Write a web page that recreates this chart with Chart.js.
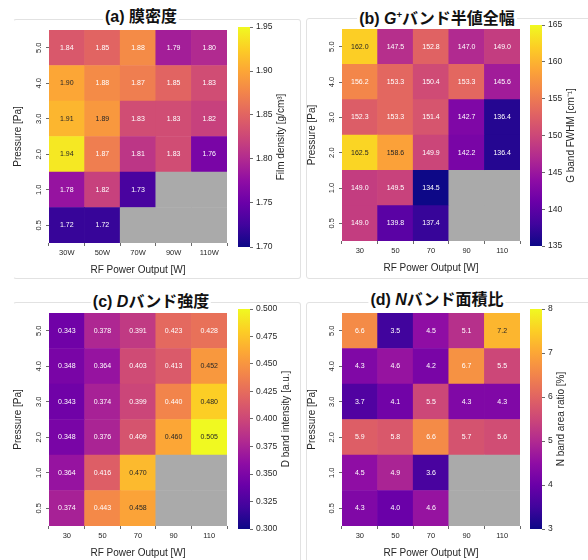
<!DOCTYPE html>
<html>
<head>
<meta charset="utf-8">
<script src="https://cdn.jsdelivr.net/npm/chart.js@4.4.1/dist/chart.umd.min.js"></script>
<style>
  body { margin: 0; background: #fff; }
  #page { position: relative; width: 588px; height: 560px; overflow: hidden; background: #fff; }
  canvas { position: absolute; }
  .box { position: absolute; border: 1px solid #e2e2e2; border-radius: 3px; }
  .title {
    position: absolute; transform: translate(-50%, -50%); white-space: nowrap;
    font-family: "Liberation Sans", "Noto Sans CJK JP", sans-serif; font-weight: bold; font-size: 16px;
    color: #111; background: #fff; padding: 0 2px; line-height: 20px;
  }
  .title sup { font-size: 60%; vertical-align: 6px; }
</style>
</head>
<body>
<div id="page">
  <div class="box" style="left:13px;top:19px;width:286px;height:258px;border-left-color:transparent"></div>
  <div class="box" style="left:306px;top:18px;width:290px;height:259px"></div>
  <div class="box" style="left:13px;top:302px;width:286px;height:270px;border-left-color:transparent"></div>
  <div class="box" style="left:306px;top:302px;width:290px;height:270px"></div>

  <canvas id="heatA" width="240" height="280" style="left:0px;top:0px"></canvas>
  <canvas id="cbarA" width="70" height="280" style="left:232px;top:0px"></canvas>
  <canvas id="heatB" width="240" height="280" style="left:294px;top:0px"></canvas>
  <canvas id="cbarB" width="70" height="280" style="left:526px;top:0px"></canvas>
  <canvas id="heatC" width="240" height="280" style="left:0px;top:283px"></canvas>
  <canvas id="cbarC" width="70" height="280" style="left:232px;top:283px"></canvas>
  <canvas id="heatD" width="240" height="280" style="left:294px;top:283px"></canvas>
  <canvas id="cbarD" width="70" height="280" style="left:526px;top:283px"></canvas>

  <div class="title" style="left:141px;top:17px">(a) 膜密度</div>
  <div class="title" style="left:437px;top:17px">(b) <i>G</i><sup>+</sup>バンド半値全幅</div>
  <div class="title" style="left:151px;top:302px">(c) <i>D</i>バンド強度</div>
  <div class="title" style="left:437px;top:300px">(d) <i>N</i>バンド面積比</div>
</div>
<script>
// rows are pressures, top to bottom; columns are RF power
const pressureLabels = ['5.0', '4.0', '3.0', '2.0', '1.0', '0.5'];
const powerLabelsW = ['30W', '50W', '70W', '90W', '110W'];
const powerLabels = ['30', '50', '70', '90', '110'];

// (a) film density [g/cm3]
const densityValues = [
    [1.84, 1.85, 1.88, 1.79, 1.80],
    [1.90, 1.88, 1.87, 1.85, 1.83],
    [1.91, 1.89, 1.83, 1.83, 1.82],
    [1.94, 1.87, 1.81, 1.83, 1.76],
    [1.78, 1.82, 1.73, null, null],
    [1.72, 1.72, null, null, null]
];
const densityTicks = [1.70, 1.75, 1.80, 1.85, 1.90, 1.95];

// (b) G+ band FWHM [cm-1]
const fwhmValues = [
    [162.0, 147.5, 152.8, 147.0, 149.0],
    [156.2, 153.3, 150.4, 153.3, 145.6],
    [152.3, 153.3, 151.4, 142.7, 136.4],
    [162.5, 158.6, 149.9, 142.2, 136.4],
    [149.0, 149.5, 134.5, null, null],
    [149.0, 139.8, 137.4, null, null]
];
const fwhmTicks = [135, 140, 145, 150, 155, 160, 165];

// (c) D band intensity [a.u.]
const dbandValues = [
    [0.343, 0.378, 0.391, 0.423, 0.428],
    [0.348, 0.364, 0.403, 0.413, 0.452],
    [0.343, 0.374, 0.399, 0.440, 0.480],
    [0.348, 0.376, 0.409, 0.460, 0.505],
    [0.364, 0.416, 0.470, null, null],
    [0.374, 0.443, 0.458, null, null]
];
const dbandTicks = [0.300, 0.325, 0.350, 0.375, 0.400, 0.425, 0.450, 0.475, 0.500];

// (d) N band area ratio [%]
const nbandValues = [
    [6.6, 3.5, 4.5, 5.1, 7.2],
    [4.3, 4.6, 4.2, 6.7, 5.5],
    [3.7, 4.1, 5.5, 4.3, 4.3],
    [5.9, 5.8, 6.6, 5.7, 5.6],
    [4.5, 4.9, 3.6, null, null],
    [4.3, 4.0, 4.6, null, null]
];
const nbandTicks = [3, 4, 5, 6, 7, 8];

const TEXT = '#262626';
const MISSING = '#aaaaaa';
const FONT = '"Liberation Sans", Arial, sans-serif';

// plasma colormap stops
const PLASMA = ['#0d0887', '#41049d', '#6a00a8', '#8f0da4', '#b12a90', '#cc4778',
                '#e16462', '#f2844b', '#fca636', '#fcce25', '#f0f921'];

function hexToRgb(h) {
    return [1, 3, 5].map(i => parseInt(h.substr(i, 2), 16));
}

function plasma(t) {
    t = Math.min(1, Math.max(0, t));
    const s = t * (PLASMA.length - 1);
    const i = Math.min(PLASMA.length - 2, Math.floor(s));
    const f = s - i;
    const a = hexToRgb(PLASMA[i]), b = hexToRgb(PLASMA[i + 1]);
    return a.map((c, k) => Math.round(c + (b[k] - c) * f));
}

// same rule as seaborn annotations: dark text on light cells
function textColorFor(rgb) {
    const lin = rgb.map(c => {
        c /= 255;
        return c <= 0.03928 ? c / 12.92 : Math.pow((c + 0.055) / 1.055, 2.4);
    });
    const lum = 0.2126 * lin[0] + 0.7152 * lin[1] + 0.0722 * lin[2];
    return lum > 0.408 ? TEXT : '#ffffff';
}

// draws the value inside each cell
const cellText = {
    id: 'cellText',
    afterDatasetsDraw(chart, args, opts) {
        const ctx = chart.ctx;
        ctx.save();
        ctx.font = '7px ' + FONT;
        ctx.textAlign = 'center';
        ctx.textBaseline = 'middle';
        chart.data.datasets.forEach((ds, di) => {
            chart.getDatasetMeta(di).data.forEach((bar, j) => {
                const v = ds.values[j];
                if (v == null) return;
                ctx.fillStyle = ds.textColors[j];
                ctx.fillText(v.toFixed(opts.decimals), bar.x, (bar.y + bar.base) / 2);
            });
        });
        ctx.restore();
    }
};

// vertical pressure labels, like matplotlib's rotated y ticks
const rotatedYLabels = {
    id: 'rotatedYLabels',
    afterDraw(chart) {
        const scale = chart.scales.y;
        const ctx = chart.ctx;
        ctx.save();
        ctx.font = '7.5px ' + FONT;
        ctx.fillStyle = TEXT;
        ctx.textAlign = 'center';
        ctx.textBaseline = 'middle';
        scale.ticks.forEach(t => {
            ctx.save();
            ctx.translate(chart.chartArea.left - 10, scale.getPixelForValue(t.value));
            ctx.rotate(-Math.PI / 2);
            ctx.fillText(t.label, 0, 0);
            ctx.restore();
        });
        ctx.restore();
    }
};

// colorbar label reading bottom to top
const cbarLabel = {
    id: 'cbarLabel',
    afterDraw(chart, args, opts) {
        const ctx = chart.ctx;
        const scale = chart.scales.y;
        ctx.save();
        ctx.font = '8.5px ' + FONT;
        const maxW = Math.max(...scale.ticks.map(t => ctx.measureText(t.label).width));
        const x = chart.chartArea.right + 6 + maxW + 9;
        const y = (chart.chartArea.top + chart.chartArea.bottom) / 2;
        ctx.font = '10px ' + FONT;
        ctx.fillStyle = TEXT;
        ctx.textAlign = 'center';
        ctx.textBaseline = 'middle';
        ctx.translate(x, y);
        ctx.rotate(-Math.PI / 2);
        ctx.fillText(opts.text, 0, 0);
        ctx.restore();
    }
};

function makeHeatmap(id, canvasLeft, canvasTop, area, xLabels, values, vmin, vmax, decimals) {
    const el = document.getElementById(id);
    const nRows = pressureLabels.length;
    const datasets = [];
    // stacked bars, bottom row first
    for (let r = nRows - 1; r >= 0; r--) {
        const row = values[r];
        const rgbs = row.map(v => v == null ? null : plasma((v - vmin) / (vmax - vmin)));
        datasets.push({
            data: row.map(() => 1),
            values: row,
            backgroundColor: rgbs.map(c => c ? `rgb(${c[0]},${c[1]},${c[2]})` : MISSING),
            textColors: rgbs.map(c => c ? textColorFor(c) : TEXT),
            borderWidth: 0,
            barPercentage: 1,
            categoryPercentage: 1
        });
    }
    const yWidth = area.left - canvasLeft;
    const xHeight = canvasTop + el.height - area.bottom;

    new Chart(el, {
        type: 'bar',
        data: { labels: xLabels, datasets: datasets },
        options: {
            responsive: false,
            animation: false,
            events: [],
            layout: {
                padding: { left: 0, top: area.top - canvasTop, right: canvasLeft + el.width - area.right, bottom: 0 }
            },
            plugins: {
                legend: { display: false },
                tooltip: { enabled: false },
                cellText: { decimals: decimals }
            },
            scales: {
                x: {
                    stacked: true,
                    grid: { display: true, drawOnChartArea: false, drawTicks: true, tickLength: 3, color: '#444', lineWidth: 0.8 },
                    border: { display: false },
                    ticks: { font: { size: 7.5, family: FONT }, color: TEXT, padding: 2, maxRotation: 0 },
                    title: {
                        display: true, text: 'RF Power Output [W]', color: TEXT,
                        font: { size: 10, family: FONT }, padding: { top: 0, bottom: xHeight - 27 - 6 }
                    },
                    afterFit: s => { s.height = xHeight; }
                },
                y: {
                    stacked: true,
                    min: 0,
                    max: nRows,
                    afterBuildTicks: s => {
                        s.ticks = pressureLabels.map((_, i) => ({ value: nRows - 1 - i + 0.5 }));
                    },
                    grid: { display: true, drawOnChartArea: false, drawTicks: true, tickLength: 3, color: '#444', lineWidth: 0.8 },
                    border: { display: false },
                    ticks: {
                        color: 'rgba(0,0,0,0)',
                        font: { size: 7.5, family: FONT },
                        callback: (v, i) => pressureLabels[i]
                    },
                    title: {
                        display: true, text: 'Pressure [Pa]', color: TEXT,
                        font: { size: 10, family: FONT }, padding: { top: 12, bottom: 0 }
                    },
                    afterFit: s => { s.width = yWidth; }
                }
            }
        },
        plugins: [cellText, rotatedYLabels]
    });
}

function makeColorbar(id, canvasLeft, canvasTop, area, ticks, decimals, label) {
    const el = document.getElementById(id);
    const vmin = ticks[0], vmax = ticks[ticks.length - 1];
    const yWidth = canvasLeft + el.width - area.right;

    new Chart(el, {
        type: 'bar',
        data: {
            labels: [''],
            datasets: [{
                data: [[vmin, vmax]],
                backgroundColor: (ctx) => {
                    const ca = ctx.chart.chartArea;
                    if (!ca) return PLASMA[0];
                    const g = ctx.chart.ctx.createLinearGradient(0, ca.bottom, 0, ca.top);
                    PLASMA.forEach((c, i) => g.addColorStop(i / (PLASMA.length - 1), c));
                    return g;
                },
                borderWidth: 0,
                barPercentage: 1,
                categoryPercentage: 1
            }]
        },
        options: {
            responsive: false,
            animation: false,
            events: [],
            layout: {
                padding: { left: area.left - canvasLeft, top: area.top - canvasTop, right: 0, bottom: canvasTop + el.height - area.bottom }
            },
            plugins: {
                legend: { display: false },
                tooltip: { enabled: false },
                cbarLabel: { text: label }
            },
            scales: {
                x: { display: false },
                y: {
                    position: 'right',
                    min: vmin,
                    max: vmax,
                    afterBuildTicks: s => { s.ticks = ticks.map(v => ({ value: v })); },
                    grid: { display: true, drawOnChartArea: false, drawTicks: true, tickLength: 3, color: '#444', lineWidth: 0.8 },
                    border: { display: false },
                    ticks: {
                        font: { size: 8.5, family: FONT }, color: TEXT, padding: 3,
                        callback: v => v.toFixed(decimals)
                    },
                    afterFit: s => { s.width = yWidth; }
                }
            }
        },
        plugins: [cbarLabel]
    });
}

makeHeatmap('heatA', 0, 0, { left: 49, top: 30, right: 227, bottom: 243 }, powerLabelsW, densityValues, 1.70, 1.95, 2);
makeColorbar('cbarA', 232, 0, { left: 238, top: 27, right: 250, bottom: 247 }, densityTicks, 2, 'Film density [g/cm³]');

makeHeatmap('heatB', 294, 0, { left: 342, top: 29, right: 520, bottom: 241 }, powerLabels, fwhmValues, 135, 165, 1);
makeColorbar('cbarB', 526, 0, { left: 530, top: 25, right: 542, bottom: 246 }, fwhmTicks, 0, 'G band FWHM [cm⁻¹]');

makeHeatmap('heatC', 0, 283, { left: 49, top: 313, right: 227, bottom: 526 }, powerLabels, dbandValues, 0.300, 0.500, 3);
makeColorbar('cbarC', 232, 283, { left: 238, top: 309, right: 250, bottom: 529 }, dbandTicks, 3, 'D band intensity [a.u.]');

makeHeatmap('heatD', 294, 283, { left: 342, top: 313, right: 520, bottom: 526 }, powerLabels, nbandValues, 3, 8, 1);
makeColorbar('cbarD', 526, 283, { left: 530, top: 309, right: 542, bottom: 529 }, nbandTicks, 0, 'N band area ratio [%]');
</script>
</body>
</html>
